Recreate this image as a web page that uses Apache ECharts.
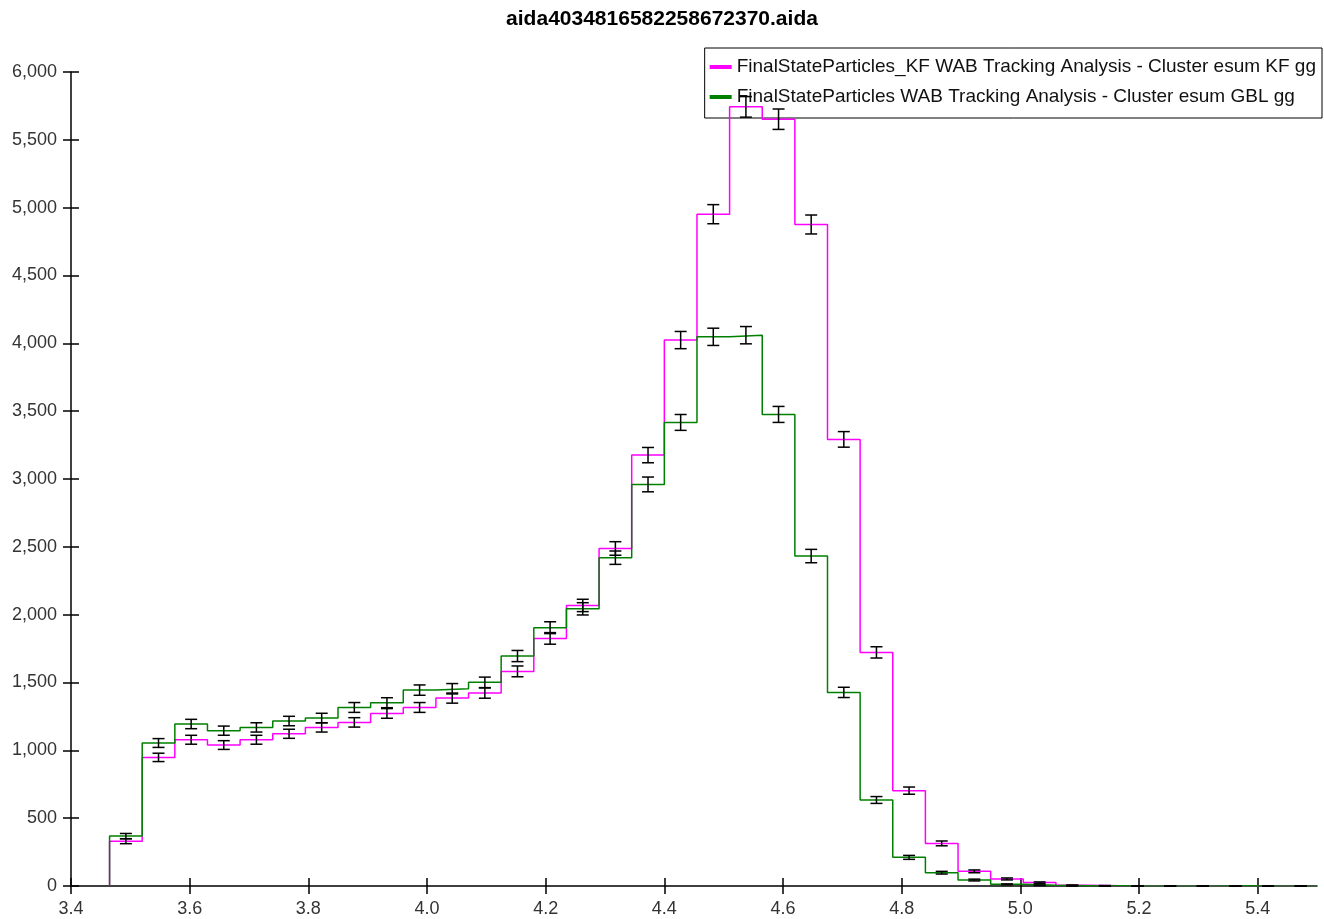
<!DOCTYPE html>
<html>
<head>
<meta charset="utf-8">
<script src="https://cdn.jsdelivr.net/npm/echarts@6/dist/echarts.min.js"></script>
<style>html,body{margin:0;padding:0;background:#fff}#c{width:1324px;height:919px}</style>
</head>
<body>
<div id="c"></div>
<script>
// Histogram binning (bin edges start at binStart, constant width)
const binStart = 3.465;
const binWidth = 0.055;
const xTicks = [3.4, 3.6, 3.8, 4.0, 4.2, 4.4, 4.6, 4.8, 5.0, 5.2, 5.4];
const titleText = 'aida4034816582258672370.aida';
const nameKF = 'FinalStateParticles_KF WAB Tracking Analysis - Cluster esum KF gg';
const nameGBL = 'FinalStateParticles WAB Tracking Analysis - Cluster esum GBL gg';
// bin contents, one per bin starting at binStart
const kfCounts = [330, 948, 1078, 1039, 1078, 1122, 1169, 1206, 1272, 1316, 1385, 1422, 1582,
  1825, 2068, 2488, 3176, 4024, 4952, 5743, 5652, 4876, 3292, 1722, 703, 314, 108, 52, 25, 5,
  2, 1, 1, 0, 0, 1, 0];
const gblCounts = [368, 1054, 1194, 1145, 1169, 1216, 1238, 1316, 1351, 1444, 1454, 1501, 1695,
  1904, 2043, 2420, 2960, 3417, 4048, 4060, 3476, 2432, 1427, 634, 211, 98, 44, 12, 5, 2,
  1, 0, 0, 0, 1, 0, 0];

function edge(i) { return +(binStart + i * binWidth).toFixed(4); }
function stepData(counts) {
  const d = [[edge(0), 0]];
  counts.forEach((v, i) => d.push([edge(i), v]));
  d.push([edge(counts.length), counts[counts.length - 1]]);
  return d;
}
function errData(counts) {
  return counts.map((v, i) => [+(edge(i) + binWidth / 2).toFixed(4), v, Math.sqrt(v)]);
}
function renderErr(params, api) {
  const x = api.value(0), y = api.value(1), e = api.value(2);
  const top = api.coord([x, y + e]);
  const bot = api.coord([x, y - e]);
  const hw = 6;
  const st = { stroke: '#000', lineWidth: 1.5 };
  return {
    type: 'group',
    children: [
      { type: 'line', shape: { x1: top[0], y1: top[1], x2: bot[0], y2: bot[1] }, style: st },
      { type: 'line', shape: { x1: top[0] - hw, y1: top[1], x2: top[0] + hw, y2: top[1] }, style: st },
      { type: 'line', shape: { x1: bot[0] - hw, y1: bot[1], x2: bot[0] + hw, y2: bot[1] }, style: st }
    ]
  };
}

const chart = echarts.init(document.getElementById('c'), null, { renderer: 'canvas' });
const font = 'Liberation Sans, Arial, sans-serif';
const tickStyle = { color: '#000', width: 1.5 };
const labelStyle = { fontFamily: font, fontSize: 18, color: '#333' };
chart.setOption({
  animation: false,
  backgroundColor: '#fff',
  title: {
    text: titleText, left: 'center', top: 4,
    textStyle: { fontFamily: font, fontSize: 21, fontWeight: 'bold', color: '#000' }
  },
  legend: {
    orient: 'vertical', right: 2, top: 48,
    backgroundColor: '#fff', borderColor: '#000', borderWidth: 1, borderRadius: 0,
    padding: [9, 6, 11, 5], itemGap: 10, itemWidth: 22, itemHeight: 4,
    textStyle: { fontFamily: font, fontSize: 19, lineHeight: 20, color: '#111' },
    data: [
      { name: nameKF, icon: 'rect', itemStyle: { color: '#ff00ff' } },
      { name: nameGBL, icon: 'rect', itemStyle: { color: '#008000' } }
    ],
    z: 0
  },
  grid: { left: 71, right: 7, top: 72, bottom: 33, containLabel: false },
  xAxis: [{
    type: 'value', min: 3.4, max: 5.5, interval: 0.2, position: 'bottom',
    axisLine: { lineStyle: { color: '#000', width: 1.5 }, onZero: false },
    axisTick: { show: true, length: 8, customValues: xTicks, lineStyle: tickStyle },
    axisLabel: Object.assign({ customValues: xTicks, formatter: v => v.toFixed(1), margin: 14 }, labelStyle),
    splitLine: { show: false }
  }, {
    type: 'value', min: 3.4, max: 5.5, interval: 0.2, position: 'bottom', offset: 0,
    axisLine: { show: false },
    axisTick: { show: true, inside: true, length: 8, customValues: xTicks, lineStyle: tickStyle },
    axisLabel: { show: false },
    splitLine: { show: false }
  }],
  yAxis: [{
    type: 'value', min: 0, max: 6000, interval: 500, position: 'left',
    axisLine: { show: true, lineStyle: { color: '#000', width: 1.5 } },
    axisTick: { show: true, length: 8, lineStyle: tickStyle },
    axisLabel: Object.assign({ formatter: v => v.toLocaleString('en-US'), margin: 14 }, labelStyle),
    splitLine: { show: false }
  }, {
    type: 'value', min: 0, max: 6000, interval: 500, position: 'left', offset: 0,
    axisLine: { show: false },
    axisTick: { show: true, inside: true, length: 8, lineStyle: tickStyle },
    axisLabel: { show: false },
    splitLine: { show: false }
  }],
  series: [
    {
      name: nameKF, type: 'line', step: 'end', data: stepData(kfCounts),
      showSymbol: false, symbol: 'none', lineStyle: { color: '#ff00ff', width: 1.5 },
      itemStyle: { color: '#ff00ff' }, z: 2
    },
    {
      name: nameGBL, type: 'line', step: 'end', data: stepData(gblCounts),
      showSymbol: false, symbol: 'none', lineStyle: { color: '#008000', width: 1.5 },
      itemStyle: { color: '#008000' }, z: 3
    },
    { type: 'custom', renderItem: renderErr, data: errData(kfCounts), encode: { x: 0, y: 1 }, z: 4, silent: true },
    { type: 'custom', renderItem: renderErr, data: errData(gblCounts), encode: { x: 0, y: 1 }, z: 4, silent: true }
  ]
});
</script>
</body>
</html>
